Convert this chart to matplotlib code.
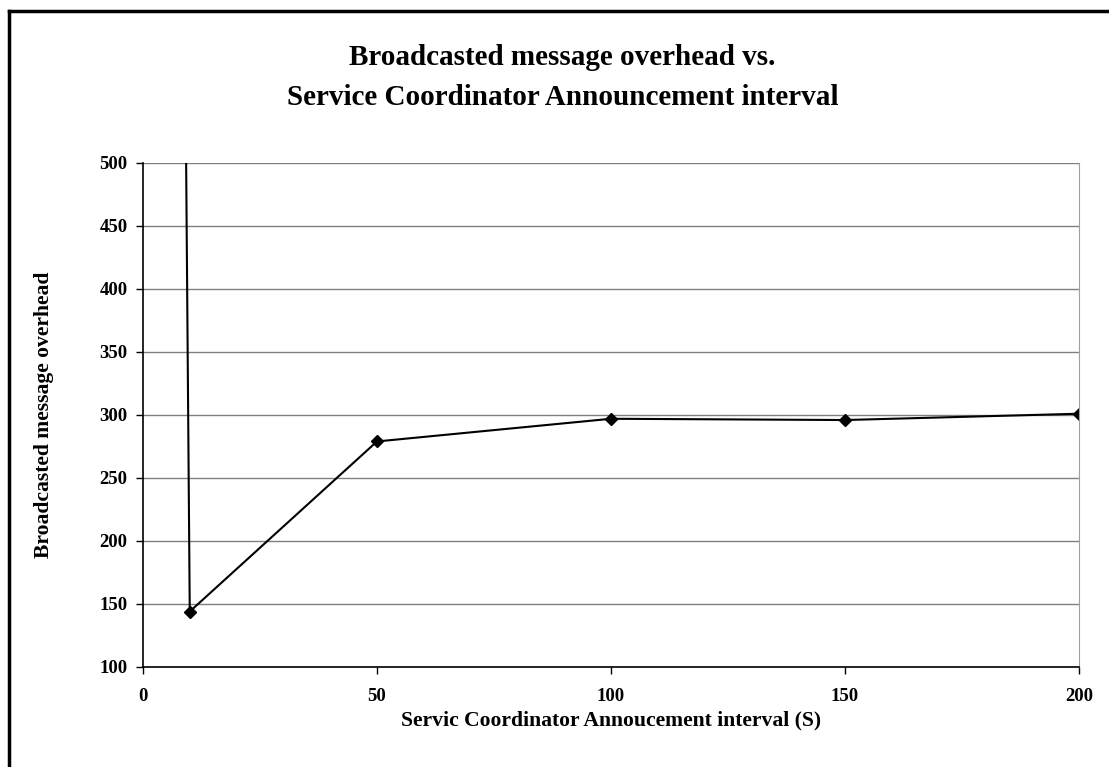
import matplotlib.pyplot as plt
import matplotlib.lines as mlines

# Announcement interval (s) and broadcast overhead
interval = [5, 10, 50, 100, 150, 200]
overhead = [2450, 144, 279, 297, 296, 301]

x_ticks = [0, 50, 100, 150, 200]
y_ticks = [100, 150, 200, 250, 300, 350, 400, 450, 500]

plt.rcParams["font.family"] = ["Liberation Serif", "DejaVu Serif"]
plt.rcParams["font.weight"] = "bold"

fig = plt.figure(figsize=(11.09, 7.67), dpi=100)
ax = fig.add_axes([0.1289, 0.1304, 0.973 - 0.1289, 0.7875 - 0.1304])

ax.plot(interval, overhead,
    color="black",
    linewidth=1.5,
    marker="D",
    markersize=6,
    )

ax.set_xlim(0, 200)
ax.set_ylim(100, 500)
ax.set_xticks(x_ticks)
ax.set_yticks(y_ticks)
ax.tick_params(axis="both", direction="out", length=5, width=1, labelsize=13.5)
ax.tick_params(axis="x", pad=10)
ax.tick_params(axis="y", pad=6)
for lab in ax.get_xticklabels() + ax.get_yticklabels():
    lab.set_fontweight("bold")

ax.grid(axis="y", color="#808080", linewidth=1)
ax.set_axisbelow(True)
ax.spines["top"].set_visible(False)
ax.spines["right"].set_color("#a0a0a0")
ax.spines["left"].set_linewidth(1.2)
ax.spines["bottom"].set_linewidth(1.2)

ax.set_xlabel("Servic Coordinator Annoucement interval (S)",
    fontsize=15.6, fontweight="bold", labelpad=4)
ax.set_ylabel("Broadcasted message overhead",
    fontsize=15.6, fontweight="bold", labelpad=33)

fig.text(0.507, 0.899, "Broadcasted message overhead vs.\nService Coordinator Announcement interval",
    ha="center", va="center", fontsize=21, fontweight="bold", linespacing=1.6)

# frame lines along top and left of the chart area
fig.add_artist(mlines.Line2D([8.5 / 1109, 1], [1 - 11 / 767, 1 - 11 / 767],
    color="black", linewidth=2.5, transform=fig.transFigure))
fig.add_artist(mlines.Line2D([8.5 / 1109, 8.5 / 1109], [0, 1 - 11 / 767],
    color="black", linewidth=2.5, transform=fig.transFigure))

plt.savefig("out.png", dpi=100)
